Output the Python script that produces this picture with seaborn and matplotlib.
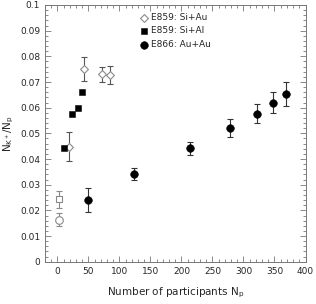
import numpy as np
import pandas as pd
import matplotlib
matplotlib.use("Agg")
import matplotlib.pyplot as plt
from matplotlib.ticker import MultipleLocator
import seaborn as sns

# E859 Si+Au (open diamonds)
siau_np = [18, 43, 72, 84]
siau_r = [0.0448, 0.0751, 0.0730, 0.0729]
siau_lo = [0.0392, 0.0704, 0.0701, 0.0691]
siau_hi = [0.0504, 0.0796, 0.0757, 0.0764]

# E859 Si+Al (filled squares)
sial_np = [10, 23, 33, 39]
sial_r = [0.0443, 0.0577, 0.0598, 0.0662]

# E866 Au+Au (filled circles)
auau_np = [49, 123, 214, 278, 321, 348, 368]
auau_r = [0.0240, 0.0343, 0.0442, 0.0520, 0.0577, 0.0619, 0.0653]
auau_lo = [0.0192, 0.0318, 0.0416, 0.0487, 0.0539, 0.0578, 0.0608]
auau_hi = [0.0286, 0.0366, 0.0467, 0.0556, 0.0614, 0.0660, 0.0699]

# grey open points near Np ~ 3
psq_np = [3]
psq_r = [0.0243]
psq_lo = [0.0208]
psq_hi = [0.0277]
pci_np = [3]
pci_r = [0.0162]
pci_lo = [0.0139]
pci_hi = [0.0189]

legend_labels = ["E859: Si+Au", "E859: Si+Al", "E866: Au+Au"]

sns.set_style("ticks")
plt.rcParams['font.family'] = ['DejaVu Sans']

fig = plt.figure(figsize=(3.16, 3.04), dpi=100)
ax = fig.add_axes([0.1424, 0.139, 0.8244, 0.8446])

grey = "#8a8a8a"

def errs(r, lo, hi):
    r = np.array(r); return [r - np.array(lo), np.array(hi) - r]

ax.errorbar(siau_np, siau_r, yerr=errs(siau_r, siau_lo, siau_hi), fmt="none",
            ecolor="#555555", elinewidth=0.8, capsize=2.5, capthick=0.8)
ax.errorbar(auau_np, auau_r, yerr=errs(auau_r, auau_lo, auau_hi), fmt="none",
            ecolor="#333333", elinewidth=0.8, capsize=2.5, capthick=0.8)
ax.errorbar(psq_np, psq_r, yerr=errs(psq_r, psq_lo, psq_hi), fmt="none",
            ecolor=grey, elinewidth=0.8, capsize=2.5, capthick=0.8)
ax.errorbar(pci_np, pci_r, yerr=errs(pci_r, pci_lo, pci_hi), fmt="none",
            ecolor=grey, elinewidth=0.8, capsize=2.5, capthick=0.8)

sns.scatterplot(x=siau_np, y=siau_r, marker="D", s=16, facecolor="white",
                edgecolor=grey, linewidth=0.8, ax=ax, label=legend_labels[0], zorder=3)
sns.scatterplot(x=sial_np, y=sial_r, marker="s", s=22, color="black",
                edgecolor="black", ax=ax, label=legend_labels[1], zorder=3)
sns.scatterplot(x=auau_np, y=auau_r, marker="o", s=30, color="black",
                edgecolor="black", ax=ax, label=legend_labels[2], zorder=3)
sns.scatterplot(x=psq_np, y=psq_r, marker="s", s=22, facecolor="white",
                edgecolor=grey, linewidth=0.8, ax=ax, zorder=3)
sns.scatterplot(x=pci_np, y=pci_r, marker="o", s=30, facecolor="white",
                edgecolor=grey, linewidth=0.8, ax=ax, zorder=3)

ax.set_xlim(-20, 400)
ax.set_ylim(0, 0.1)
ax.xaxis.set_major_locator(MultipleLocator(50))
ax.xaxis.set_minor_locator(MultipleLocator(10))
ax.yaxis.set_major_locator(MultipleLocator(0.01))
ax.yaxis.set_minor_locator(MultipleLocator(0.002))
ax.set_yticks(np.arange(0, 0.1001, 0.01))
ax.set_yticklabels(["0"] + ["%.2f" % v for v in np.arange(0.01, 0.0951, 0.01)] + ["0.1"])
ax.tick_params(which="both", direction="in", top=True, right=True,
               labelsize=6.5, color="#777777", width=0.6)
ax.tick_params(which="major", length=4)
ax.tick_params(which="minor", length=2)
for sp in ax.spines.values():
    sp.set_color("#777777")
    sp.set_linewidth(0.7)

ax.set_xlabel("Number of participants N$_\\mathrm{p}$", fontsize=7.5, labelpad=7)
ax.set_ylabel("N$_\\mathrm{K^+}$/N$_\\mathrm{p}$", fontsize=7.5, labelpad=3)

leg = ax.legend(loc="upper left", bbox_to_anchor=(0.34, 0.99), frameon=False,
                fontsize=6.5, handletextpad=0.3, labelspacing=0.5,
                borderaxespad=0.2, handlelength=1.0)

fig.savefig("out.png", dpi=100)
